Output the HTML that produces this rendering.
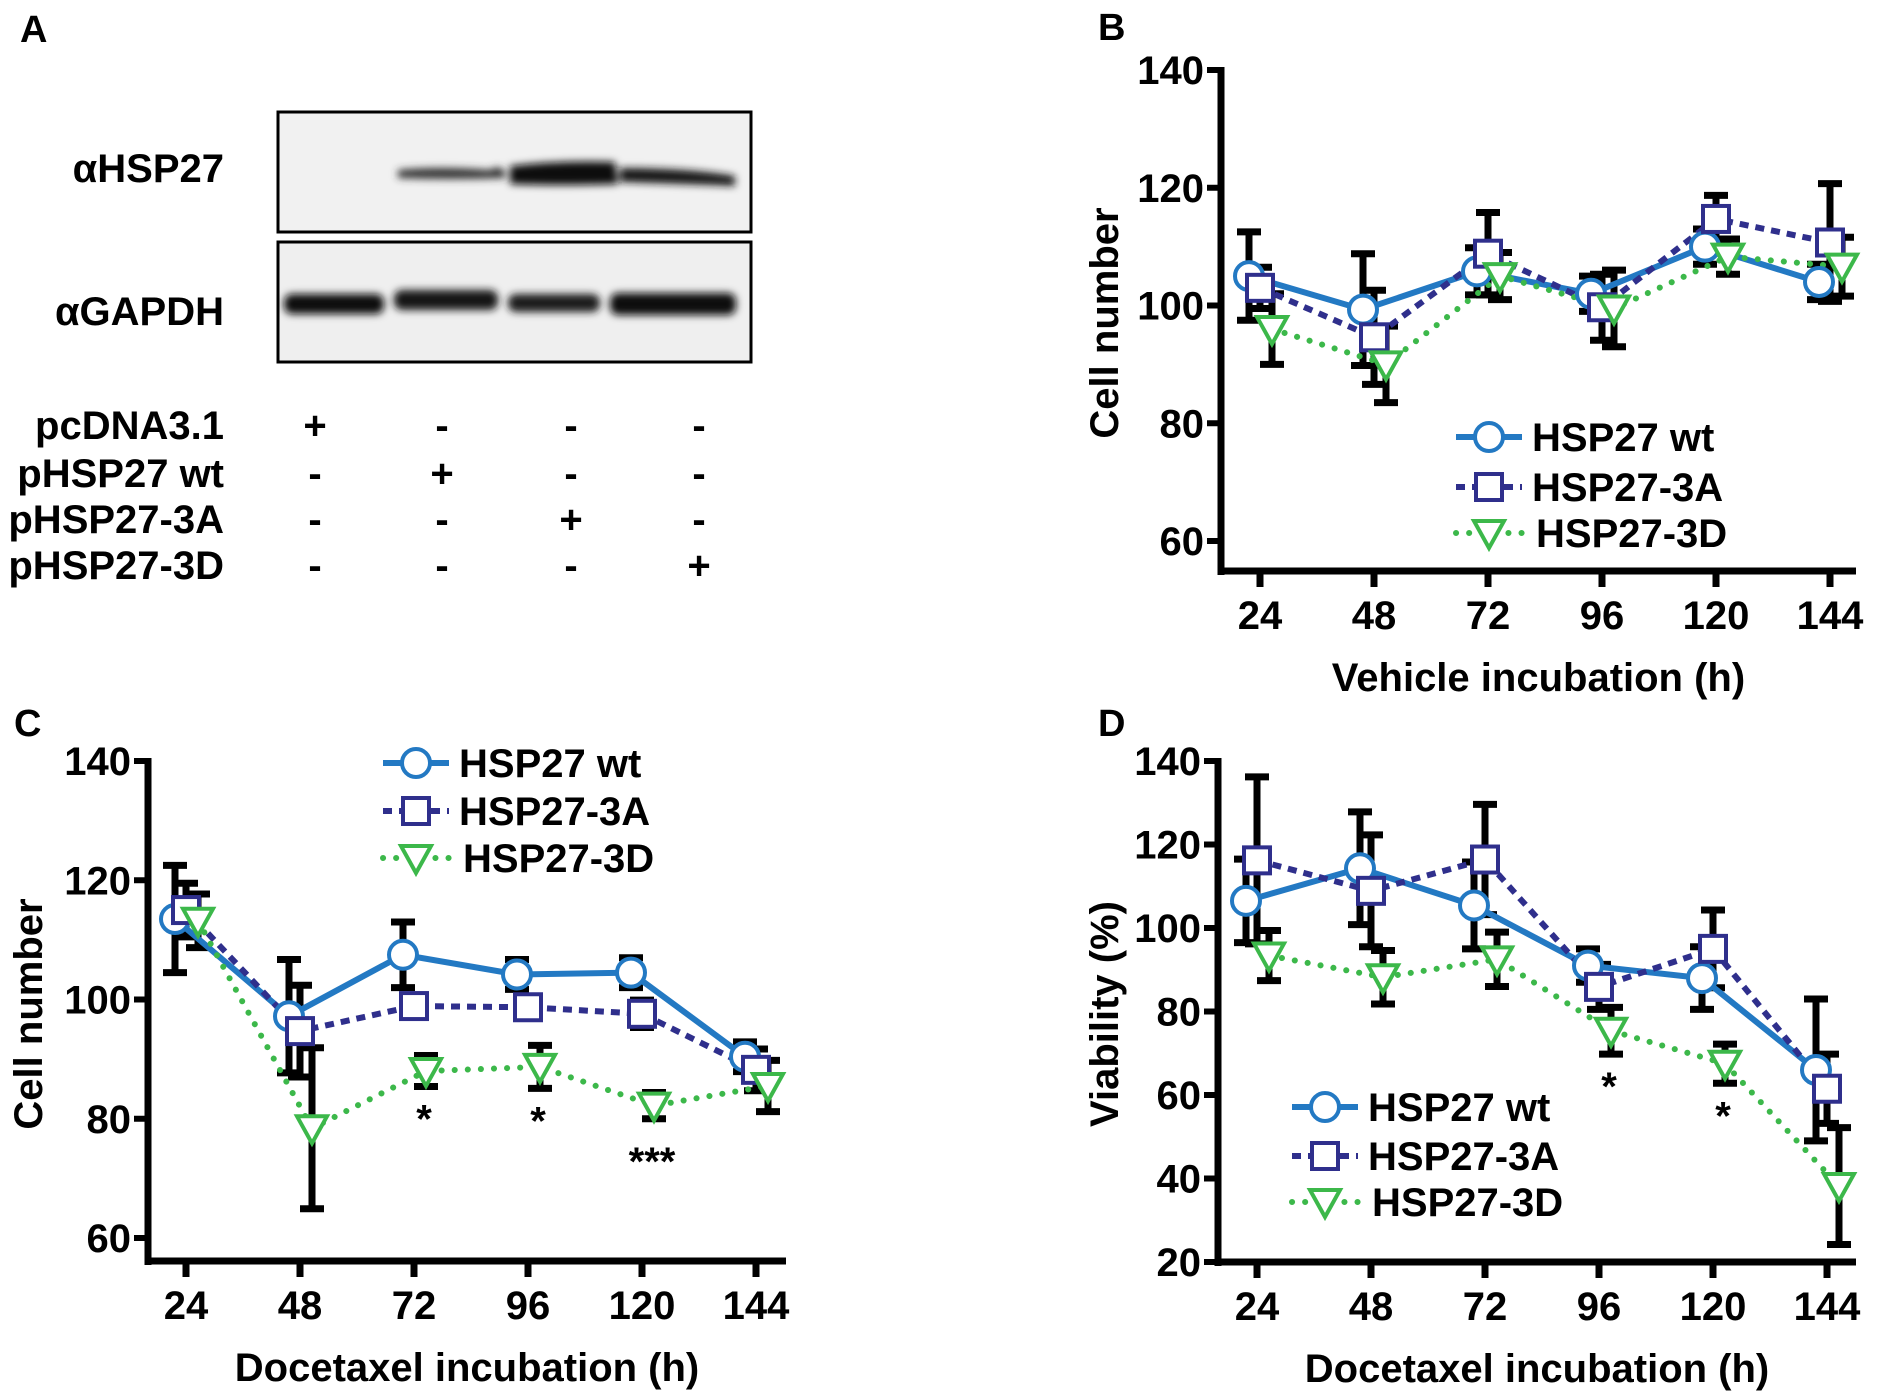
<!DOCTYPE html>
<html><head><meta charset="utf-8"><style>
html,body{margin:0;padding:0;background:#fff;}
svg{display:block;font-family:"Liberation Sans",Arial,sans-serif;font-weight:bold;}
</style></head><body>
<svg id="fig" width="1890" height="1400" viewBox="0 0 1890 1400" xmlns="http://www.w3.org/2000/svg">
<defs>
<filter id="blur" x="-10%" y="-50%" width="120%" height="200%"><feGaussianBlur stdDeviation="4"/></filter>
</defs>
<g>
<text x="20" y="42" font-size="38">A</text>
<rect x="278" y="112" width="473" height="120" fill="#f1f1f1" stroke="#000" stroke-width="3"/>
<rect x="278" y="242" width="473" height="120" fill="#efefef" stroke="#000" stroke-width="3"/>
<g filter="url(#blur)">
<path d="M398,170 Q440,166 490,170 Q500,164 505,172 L505,178 Q450,180 398,178 Z" fill="#333"/>
<path d="M510,166 Q560,160 615,162 L618,184 Q560,186 510,184 Z" fill="#111"/>
<path d="M620,168 Q690,168 735,176 L735,186 Q690,184 620,182 Z" fill="#151515"/>
</g>
<g filter="url(#blur)">
<rect x="284" y="294" width="100" height="20" rx="8" fill="#111"/>
<rect x="394" y="290" width="104" height="20" rx="8" fill="#161616"/>
<rect x="508" y="294" width="92" height="18" rx="8" fill="#1a1a1a"/>
<rect x="610" y="293" width="126" height="22" rx="8" fill="#0d0d0d"/>
</g>
<text x="224" y="182" font-size="40" text-anchor="end">αHSP27</text>
<text x="224" y="325" font-size="40" text-anchor="end">αGAPDH</text>
<g id="plasmidTable"></g>
</g>
<g id="panels"></g>
</svg>
<script>
const NS="http://www.w3.org/2000/svg";
const svg=document.getElementById('fig');
// ---------- Panel A table data ----------
const plasmidRows=["pcDNA3.1","pHSP27 wt","pHSP27-3A","pHSP27-3D"];
const plasmidSigns=[["+","-","-","-"],["-","+","-","-"],["-","-","+","-"],["-","-","-","+"]];
// ---------- Chart data ----------
const timepoints=[24,48,72,96,120,144];
const seriesNames=["HSP27 wt","HSP27-3A","HSP27-3D"];
const bWt=[105,99.3,105.8,102,110,104];
const bWtErr=[7.5,9.5,4,3,3,3];
const b3A=[103,94.6,108.8,99.7,114.7,110.7];
const b3AErr=[3.5,8,7,5.6,4,10];
const b3D=[96,90,105,99.5,108.3,106.6];
const b3DErr=[6,6.5,4,6.5,3,5];
const cWt=[113.5,97.2,107.5,104.2,104.5,90.4];
const cWtErr=[9,9.5,5.5,2.5,2.5,2.5];
const c3A=[115,94.7,98.9,98.7,97.6,88.2];
const c3AErr=[4.5,7.7,1,1,2.3,3.5];
const c3D=[113.2,78.4,88,88.7,82.2,85.5];
const c3DErr=[4.5,13.5,2.6,3.6,2.2,4.3];
const dWt=[106.5,114.3,105.4,91,88,66];
const dWtErr=[10,13.5,10.4,4,7.5,17];
const d3A=[116.2,108.9,116.4,85.9,95,61.5];
const d3AErr=[20,13.4,13.2,5.4,9.3,8.3];
const d3D=[93.4,88.2,92.5,75.4,67.5,38.2];
const d3DErr=[6,6.4,6.5,5.6,4.7,14];
const bTicks=["60","80","100","120","140"];
const cTicks=["60","80","100","120","140"];
const dTicks=["20","40","60","80","100","120","140"];
const cStars=["","","*","*","***",""];
const dStars=["","","","*","*",""];

function el(tag,attrs,parent){const e=document.createElementNS(NS,tag);for(const k in attrs)e.setAttribute(k,attrs[k]);(parent||svg).appendChild(e);return e;}

const tbl=document.getElementById('plasmidTable');
const colX=[315,442,571,699];
const rowY=[425,473,519,565];
plasmidRows.forEach((r,i)=>{
  const t=el('text',{x:224,y:rowY[i]+14,'font-size':40,'text-anchor':'end'},tbl);
  
  
  t.textContent=r;
  plasmidSigns[i].forEach((s,j)=>{
    const u=el('text',{x:colX[j],y:rowY[i]+14,'font-size':40,'text-anchor':'middle'},tbl);
    
    
    u.textContent=s;
  });
});

const styles=[
 {color:"#2379c3",dash:"",w:6,marker:"circle",off:-11},
 {color:"#2f2f8c",dash:"9,7",w:6,marker:"square",off:0},
 {color:"#3cb84a",dash:"0.1,13",w:6,marker:"tri",off:12,cap:"round"}
];

function marker(g,type,x,y,color){
  let m;
  if(type==="circle") m=el('circle',{cx:x,cy:y,r:14,fill:'#fff',stroke:color,'stroke-width':4},g);
  else if(type==="square") m=el('rect',{x:x-13,y:y-13,width:26,height:26,fill:'#fff',stroke:color,'stroke-width':4},g);
  else m=el('path',{d:`M${x-15},${y-12} L${x+15},${y-12} L${x},${y+15} Z`,fill:'#fff',stroke:color,'stroke-width':4,'stroke-linejoin':'miter'},g);
  return m;
}

function panel(cfg){
  const g=el('g',{},document.getElementById('panels'));
  
  
  const yS=v=>cfg.y0+(v-cfg.vmin)/(cfg.vmax-cfg.vmin)*(cfg.y1-cfg.y0);
  const xS=i=>cfg.x0+i*cfg.dx;
  const lab=el('text',{x:cfg.lx,y:cfg.ly,'font-size':38},g);
  
  
  lab.textContent=cfg.label;
  const ya=el('line',{x1:cfg.ax,y1:yS(cfg.vmax)-3,x2:cfg.ax,y2:cfg.base+4,stroke:'#000','stroke-width':7},g);
  
  
  const xa=el('line',{x1:cfg.ax-3,y1:cfg.base,x2:cfg.axEnd,y2:cfg.base,stroke:'#000','stroke-width':7},g);
  
  
  cfg.ticks.forEach(t=>{
    const v=+t,y=yS(v);
    const tk=el('line',{x1:cfg.ax-14,y1:y,x2:cfg.ax,y2:y,stroke:'#000','stroke-width':6},g);
    
    
    const tl=el('text',{x:cfg.ax-17,y:y+14,'font-size':40,'text-anchor':'end'},g);
    
    
    tl.textContent=t;
  });
  timepoints.forEach((t,i)=>{
    const x=xS(i);
    const tk=el('line',{x1:x,y1:cfg.base,x2:x,y2:cfg.base+16,stroke:'#000','stroke-width':7},g);
    
    
    const tl=el('text',{x:x,y:cfg.base+58,'font-size':40,'text-anchor':'middle'},g);
    
    
    tl.textContent=t;
  });
  const xt=el('text',{x:(cfg.ax+cfg.axEnd)/2,y:cfg.base+120,'font-size':40,'text-anchor':'middle'},g);
  
  
  xt.textContent=cfg.xtitle;
  const yt=el('text',{x:0,y:0,'font-size':40,'text-anchor':'middle',transform:`translate(${cfg.ytx},${cfg.yty}) rotate(-90)`},g);
  
  
  yt.textContent=cfg.ytitle;
  cfg.series.forEach((s,k)=>{
    const st=styles[k];
    s.vals.forEach((v,i)=>{
      const x=xS(i)+st.off,e=s.err[i];
      const eb=el('path',{d:`M${x},${yS(v+e)} L${x},${yS(v-e)} M${x-12},${yS(v+e)} L${x+12},${yS(v+e)} M${x-12},${yS(v-e)} L${x+12},${yS(v-e)}`,stroke:'#000','stroke-width':7,fill:'none'},g);
      
      
    });
  });
  cfg.series.forEach((s,k)=>{
    const st=styles[k];
    const pts=s.vals.map((v,i)=>`${xS(i)+st.off},${yS(v)}`).join(' ');
    const ln=el('polyline',{points:pts,fill:'none',stroke:st.color,'stroke-width':st.w,'stroke-dasharray':st.dash,'stroke-linecap':st.cap||'butt'},g);
    
    
  });
  cfg.series.forEach((s,k)=>{
    const st=styles[k];
    s.vals.forEach((v,i)=>{
      const m=marker(g,st.marker,xS(i)+st.off,yS(v),st.color);
      
      
    });
  });
  if(cfg.stars){
    cfg.stars.forEach((s,i)=>{
      if(!s)return;
      const v=cfg.series[2].vals[i]-cfg.series[2].err[i];
      const t=el('text',{x:xS(i)+styles[2].off-2,y:yS(v)+(s.length>1?56:46),'font-size':40,'text-anchor':'middle'},g);
      
      
      t.textContent=s;
    });
  }
  seriesNames.forEach((n,k)=>{
    const st=styles[k],y=cfg.legY[k];
    const lg=el('g',{},g);
    
    
    el('line',{x1:cfg.legX,y1:y,x2:cfg.legX+66,y2:y,stroke:st.color,'stroke-width':st.w,'stroke-dasharray':st.dash,'stroke-linecap':st.cap||'butt'},lg);
    marker(lg,st.marker,cfg.legX+33,y,st.color);
    const t=el('text',{x:cfg.legX+76+(k===2?4:0),y:y+14,'font-size':40},lg);
    t.textContent=n;
  });
}

panel({name:'panel-b',label:'B',lx:1098,ly:40,ax:1221,axEnd:1856,base:571,x0:1260,dx:114,vmin:60,vmax:140,y0:541,y1:70,
  ticks:bTicks,xtitle:'Vehicle incubation (h)',ytitle:'Cell number',ytx:1118,yty:323,
  series:[{vals:bWt,err:bWtErr},{vals:b3A,err:b3AErr},{vals:b3D,err:b3DErr}],
  legX:1456,legY:[437,487,533]});
panel({name:'panel-c',label:'C',lx:14,ly:736,ax:148,axEnd:786,base:1261,x0:186,dx:114,vmin:60,vmax:140,y0:1238,y1:761,
  ticks:cTicks,xtitle:'Docetaxel incubation (h)',ytitle:'Cell number',ytx:42,yty:1014,
  series:[{vals:cWt,err:cWtErr},{vals:c3A,err:c3AErr},{vals:c3D,err:c3DErr}],stars:cStars,
  legX:383,legY:[763,811,858]});
panel({name:'panel-d',label:'D',lx:1098,ly:736,ax:1218,axEnd:1856,base:1262,x0:1257,dx:114,vmin:20,vmax:140,y0:1262,y1:761,
  ticks:dTicks,xtitle:'Docetaxel incubation (h)',ytitle:'Viability (%)',ytx:1118,yty:1014,
  series:[{vals:dWt,err:dWtErr},{vals:d3A,err:d3AErr},{vals:d3D,err:d3DErr}],stars:dStars,
  legX:1292,legY:[1107,1156,1202]});
</script>
</body></html>
